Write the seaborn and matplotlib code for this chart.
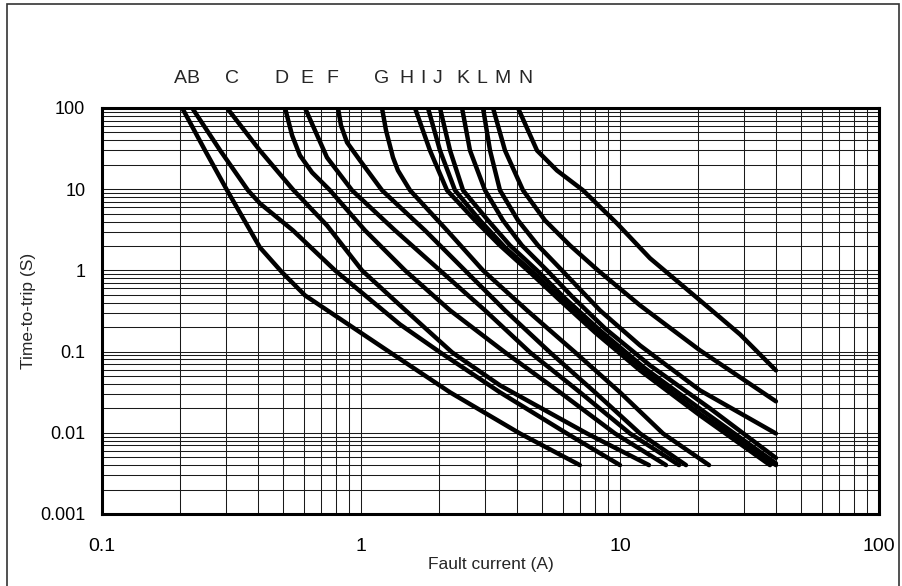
import numpy as np
import pandas as pd
import matplotlib
matplotlib.use("Agg")
import matplotlib.pyplot as plt
import matplotlib.ticker as mticker
from matplotlib.patches import Rectangle
import seaborn as sns

# ---- data (fault current in A, time-to-trip in s) ----
A_I = [0.204, 0.25, 0.304, 0.407, 0.496, 0.608, 1.294, 2.207, 4.11, 7.0]
A_t = [100, 30, 9.7, 1.92, 0.945, 0.492, 0.098, 0.0315, 0.0098, 0.004]
B_I = [0.223, 0.286, 0.366, 0.407, 0.546, 0.794, 1.415, 2.02, 3.44, 6.24, 10.0]
B_t = [100, 30, 9.7, 6.69, 3.11, 1.0, 0.216, 0.098, 0.0315, 0.0098, 0.004]
C_I = [0.304, 0.407, 0.546, 0.739, 1.009, 1.415, 2.246, 3.44, 7.46, 12.94]
C_t = [100, 30, 9.9, 3.58, 1.0, 0.371, 0.098, 0.0384, 0.0098, 0.004]
D_I = [0.509, 0.542, 0.581, 0.647, 0.759, 1.036, 1.479, 2.207, 3.597, 5.866, 9.566, 15.05]
D_t = [100, 46.0, 26.1, 16.1, 9.7, 3.11, 1.0, 0.322, 0.098, 0.0315, 0.0098, 0.004]
E_I = [0.608, 0.739, 0.923, 1.353, 2.018, 3.011, 4.492, 7.01, 10.93, 16.9]
E_t = [100, 24.6, 9.7, 3.11, 1.0, 0.322, 0.098, 0.0315, 0.0098, 0.004]
F_I = [0.815, 0.837, 0.883, 0.991, 1.205, 1.766, 2.52, 3.597, 5.366, 8.01, 11.95, 17.98]
F_t = [100, 61.1, 37.7, 22.6, 9.7, 3.11, 1.0, 0.322, 0.098, 0.0315, 0.0098, 0.004]
G_I = [1.205, 1.249, 1.329, 1.389, 1.546, 2.148, 2.958, 4.375, 6.706, 10.0, 14.66, 22.07]
G_t = [100, 53.0, 24.6, 17.0, 9.7, 3.11, 1.0, 0.322, 0.098, 0.0315, 0.0098, 0.004]
H_I = [1.616, 1.846, 2.148, 2.755, 3.44, 4.492, 5.866, 8.01, 11.95, 20.37, 37.95]
H_t = [100, 30, 9.7, 4.13, 2.03, 0.945, 0.427, 0.1724, 0.0587, 0.01637, 0.004]
I_I = [1.814, 2.018, 2.306, 2.881, 3.597, 4.615, 5.972, 8.15, 12.16, 20.73, 40.0]
I_t = [100, 30, 9.7, 4.13, 1.92, 0.945, 0.427, 0.1724, 0.0587, 0.01637, 0.004]
J_I = [2.018, 2.207, 2.477, 3.093, 3.761, 4.781, 6.133, 8.37, 12.49, 21.29, 40.0]
J_t = [100, 30, 9.7, 4.13, 2.03, 1.0, 0.452, 0.1824, 0.0621, 0.01783, 0.0042]
K_I = [2.455, 2.635, 3.011, 3.534, 4.183, 5.226, 6.527, 8.753, 13.06, 22.26, 40.0]
K_t = [100, 30, 9.7, 4.13, 2.03, 1.0, 0.478, 0.193, 0.0676, 0.01998, 0.0049]
L_I = [2.958, 3.149, 3.44, 4.039, 4.824, 5.972, 8.37, 11.95, 20.37, 40.0]
L_t = [100, 30, 9.7, 4.13, 2.03, 1.0, 0.322, 0.1192, 0.0333, 0.0098]
M_I = [3.234, 3.597, 4.221, 5.133, 6.412, 8.225, 11.95, 20.37, 40.0]
M_t = [100, 30, 9.7, 4.13, 2.03, 1.0, 0.371, 0.1035, 0.0244]
N_I = [4.039, 4.781, 5.711, 7.196, 9.737, 13.06, 20.37, 29.06, 40.0]
N_t = [100, 30, 17.0, 9.7, 3.79, 1.41, 0.427, 0.163, 0.0587]

curve_names = list("ABCDEFGHIJKLMN")
curve_I = [A_I, B_I, C_I, D_I, E_I, F_I, G_I, H_I, I_I, J_I, K_I, L_I, M_I, N_I]
curve_t = [A_t, B_t, C_t, D_t, E_t, F_t, G_t, H_t, I_t, J_t, K_t, L_t, M_t, N_t]

label_x = [0.2, 0.224, 0.318, 0.495, 0.619, 0.773, 1.205, 1.5, 1.735, 1.98, 2.48, 2.93, 3.53, 4.3]
label_y = 231

x_ticks = [0.1, 1, 10, 100]
x_tick_labels = ["0.1", "1", "10", "100"]
y_ticks = [0.001, 0.01, 0.1, 1, 10, 100]
y_tick_labels = ["0.001", "0.01", "0.1", "1", "10", "100"]

rows = []
for name, xs, ts in zip(curve_names, curve_I, curve_t):
    for k, (x, t) in enumerate(zip(xs, ts)):
        rows.append({"curve": name, "order": k, "I": x, "t": t})
df = pd.DataFrame(rows)

# ---- figure ----
sns.set_style("white")
plt.rcParams["font.family"] = ["Liberation Sans", "DejaVu Sans"]
plt.rcParams["lines.solid_joinstyle"] = "round"
plt.rcParams["lines.solid_capstyle"] = "round"

W, H = 902, 586
fig = plt.figure(figsize=(W / 100, H / 100), dpi=100)
L_, R_, T_, B_ = 102, 879, 108, 514
ax = fig.add_axes([L_ / W, 1 - B_ / H, (R_ - L_) / W, (B_ - T_) / H])

ax.set_xscale("log")
ax.set_yscale("log")
ax.set_xlim(0.1, 100)
ax.set_ylim(0.001, 100)

ax.xaxis.set_major_locator(mticker.FixedLocator(x_ticks))
ax.xaxis.set_major_formatter(mticker.FixedFormatter(x_tick_labels))
ax.yaxis.set_major_locator(mticker.FixedLocator(y_ticks))
ax.yaxis.set_major_formatter(mticker.FixedFormatter(y_tick_labels))
ax.xaxis.set_minor_locator(mticker.LogLocator(base=10, subs=np.arange(2, 10)))
ax.yaxis.set_minor_locator(mticker.LogLocator(base=10, subs=np.arange(2, 10)))
ax.xaxis.set_minor_formatter(mticker.NullFormatter())
ax.yaxis.set_minor_formatter(mticker.NullFormatter())

ax.grid(True, which="both", color="#1a1a1a", linewidth=0.75)
ax.set_axisbelow(True)
ax.tick_params(which="both", length=0, colors="black")
ax.tick_params(axis="x", pad=17, labelsize=14)
ax.tick_params(axis="y", pad=12, labelsize=13)

sns.lineplot(data=df, x="I", y="t", units="curve", estimator=None, sort=False,
             color="black", linewidth=3.2, ax=ax, legend=False)
for ln in ax.get_lines():
    ln.set_solid_joinstyle("round")
    ln.set_solid_capstyle("round")

for sp in ax.spines.values():
    sp.set_linewidth(2.2)
    sp.set_color("black")
    sp.set_visible(True)

for name, lx in zip(curve_names, label_x):
    ax.text(lx, label_y, name, ha="center", va="center", fontsize=14, clip_on=False)

ax.set_xlabel("Fault current (A)", fontsize=12.5, labelpad=2)
ax.set_ylabel("Time-to-trip (S)", fontsize=12.5, labelpad=3)

fig.patches.append(Rectangle((7 / W, -0.05), 892 / W, 1.05 - 4 / H, transform=fig.transFigure,
                             fill=False, edgecolor="#333333", linewidth=1.2))

fig.savefig("out.png", dpi=100)
